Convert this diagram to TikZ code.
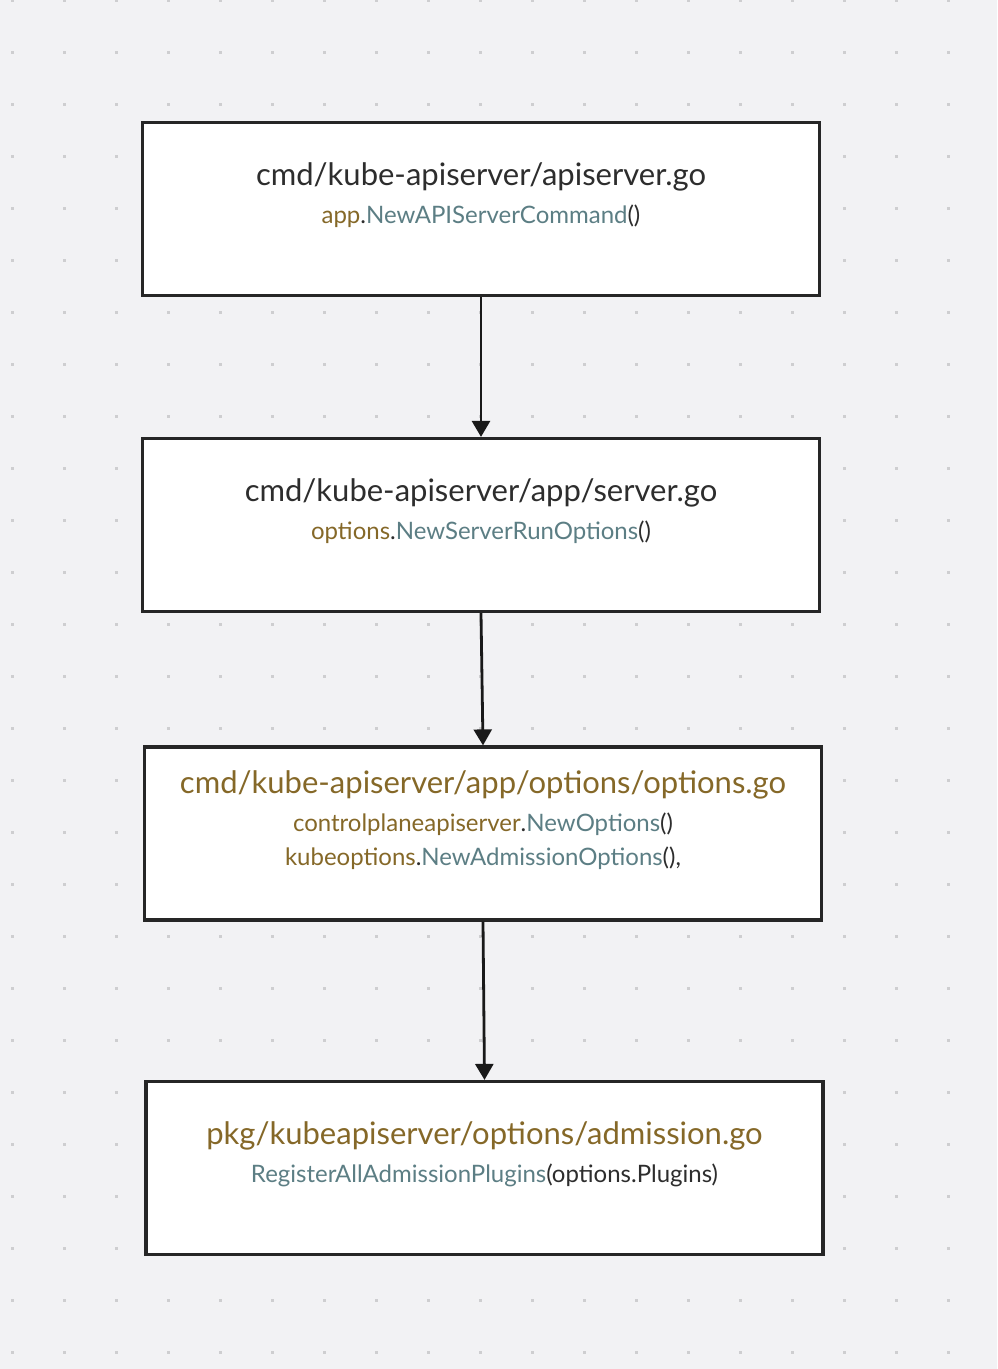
\documentclass[tikz,border=0pt]{standalone}
\usepackage{fontspec}
\setmainfont{Lato}
\usetikzlibrary{arrows.meta,positioning}
\definecolor{pathgold}{RGB}{133,104,40}
\definecolor{functeal}{RGB}{92,126,132}
\definecolor{plaintext}{RGB}{45,45,45}
\definecolor{canvas}{RGB}{242,242,244}
\definecolor{griddot}{RGB}{206,206,208}
\newcommand{\pkgname}[1]{\textcolor{pathgold}{#1}}
\newcommand{\fnname}[1]{\textcolor{functeal}{#1}}
\newcommand{\filetitle}[1]{{\fontsize{31}{34}\selectfont #1}}
\begin{document}
\begin{tikzpicture}
[
    x=1pt, y=-1pt,
    filebox/.style={draw=black!85, line width=3.2pt, fill=white, minimum width=677pt, minimum height=173pt, inner sep=0pt},
    boxtext/.style={align=center, text=plaintext, font=\fontsize{24}{34}\selectfont},
    call/.style={line width=2.8pt, draw=black!90, -{Triangle[length=16pt,width=18pt]}},
]
\fill[canvas] (0,0) rectangle (997,1369);
\useasboundingbox (0,0) rectangle (997,1369);
\foreach \i in {0,...,18}
    \foreach \j in {0,...,26}
        \fill[griddot] (12+52*\i-1.5,52*\j-1.5) rectangle ++(3,3);

\node[filebox] (apiserver) at (481,209) {};
\node[filebox] (server) at (481,525) {};
\node[filebox] (options) at (483,833.5) {};
\node[filebox] (admission) at (484.5,1168) {};

\node[boxtext] (apiservertext) at ([yshift=-74.5pt]apiserver.north)
    {\filetitle{cmd/kube-apiserver/apiserver.go}\\[4pt]
     \pkgname{app}.\fnname{NewAPIServerCommand}()};
\node[boxtext] (servertext) at ([yshift=-74.5pt]server.north)
    {\filetitle{cmd/kube-apiserver/app/server.go}\\[4pt]
     \pkgname{options}.\fnname{NewServerRunOptions}()};
\node[boxtext] (optionstext) at ([yshift=-74.5pt]options.north)
    {\filetitle{\pkgname{cmd/kube-apiserver/app/options/options.go}}\\[4pt]
     \pkgname{controlplaneapiserver}.\fnname{NewOptions}()\\
     \pkgname{kubeoptions}.\fnname{NewAdmissionOptions}(),};
\node[boxtext] (admissiontext) at ([yshift=-74.5pt]admission.north)
    {\filetitle{\pkgname{pkg/kubeapiserver/options/admission.go}}\\[4pt]
     \fnname{RegisterAllAdmissionPlugins}(options.Plugins)};

\draw[call] (apiserver.south) -- (server.north);
\draw[call] (server.south) -- (options.north);
\draw[call] (options.south) -- (admission.north);
\end{tikzpicture}
\end{document}
